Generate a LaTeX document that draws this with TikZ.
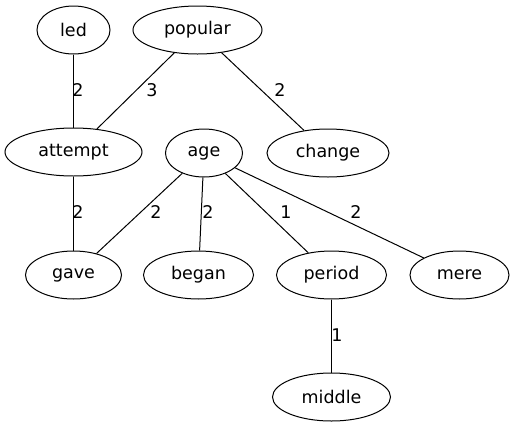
\documentclass[tikz,border=0pt]{standalone}
\usepackage{fontspec}
\setmainfont{DejaVu Sans}
\usetikzlibrary{shapes.geometric}
\begin{document}
\begin{tikzpicture}[x=1pt,y=-1pt,
  every node/.style={font=\fontsize{17.5}{20}\selectfont},
  vnode/.style={draw, ellipse, line width=1pt, inner sep=0pt, minimum height=48pt},
  elabel/.style={inner sep=0pt},
  edge/.style={line width=1pt}]
\useasboundingbox (0,0) rectangle (515,429);
\node[vnode, minimum width=73pt]  (led)     at (73.5,30)    {led};
\node[vnode, minimum width=129pt] (popular) at (197.5,30) {popular};
\node[vnode, minimum width=137pt] (attempt) at (73.5,152)   {attempt};
\node[vnode, minimum width=77pt]  (age)     at (204,153)  {age};
\node[vnode, minimum width=122pt] (change)  at (328,153)  {change};
\node[vnode, minimum width=96pt]  (gave)    at (73.5,275)   {gave};
\node[vnode, minimum width=110pt] (began)   at (198.5,275){began};
\node[vnode, minimum width=110pt] (period)  at (331.5,275){period};
\node[vnode, minimum width=99pt]  (mere)    at (459.5,275){mere};
\node[vnode, minimum width=118pt] (middle)  at (331.5,397){middle};
\draw[edge] (led) -- (attempt);
\draw[edge] (popular) -- (attempt);
\draw[edge] (popular) -- (change);
\draw[edge] (attempt) -- (gave);
\draw[edge] (age) -- (gave);
\draw[edge] (age) -- (began);
\draw[edge] (age) -- (period);
\draw[edge] (age) -- (mere);
\draw[edge] (period) -- (middle);
\node[elabel] (l1) at (78,90)  {2};
\node[elabel] (l2) at (152,90) {3};
\node[elabel] (l3) at (280,90) {2};
\node[elabel] (l4) at (78,212) {2};
\node[elabel] (l5) at (156,212) {2};
\node[elabel] (l6) at (208,212) {2};
\node[elabel] (l7) at (286,212) {1};
\node[elabel] (l8) at (356,212) {2};
\node[elabel] (l9) at (337,335) {1};
\end{tikzpicture}
\end{document}
